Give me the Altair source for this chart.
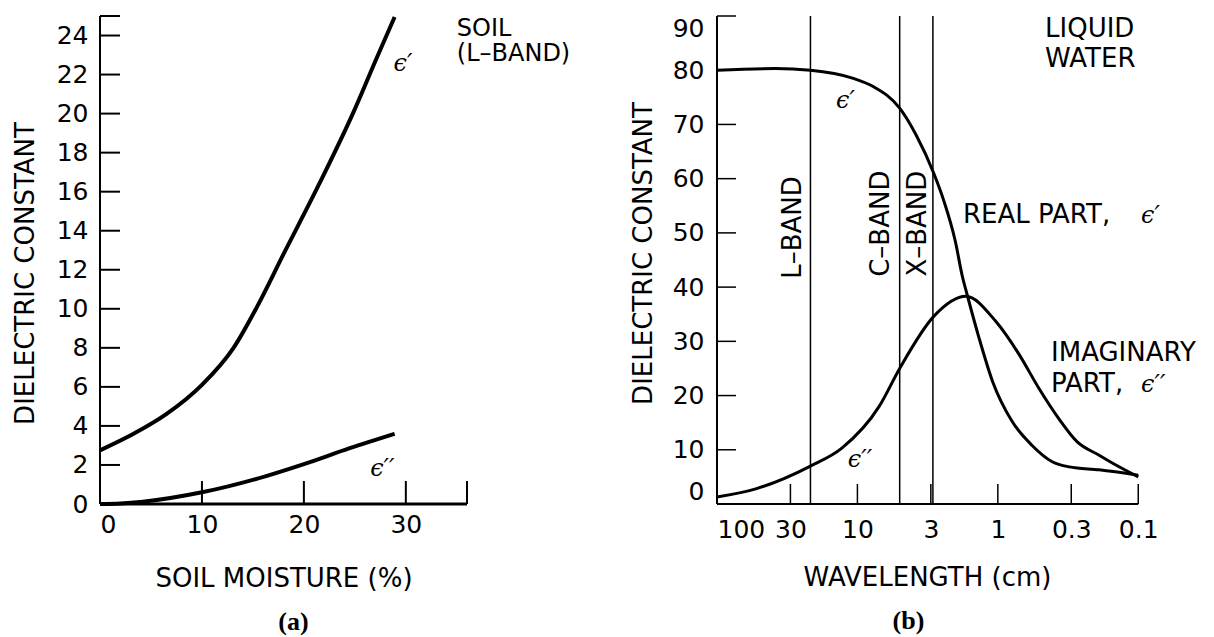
import math
import altair as alt
import pandas as pd

# ---------------- (a) SOIL (L-BAND) ----------------
soil_moisture_real = [0, 3.2, 6.5, 10, 13.1, 15.4, 18, 21.6, 24.8, 27.1, 28.9]
soil_eps_real = [2.75, 3.57, 4.6, 6.1, 8.0, 10.1, 12.8, 16.5, 20.0, 22.8, 24.95]
soil_moisture_imag = [0, 2, 4.2, 10, 16.3, 20, 24.5, 28.9]
soil_eps_imag = [0.0, 0.03, 0.12, 0.6, 1.43, 2.04, 2.86, 3.6]
soil_x_labels = [0, 10, 20, 30]
soil_x_ticks = [10, 20, 30, 36]
soil_y_labels = [0, 2, 4, 6, 8, 10, 12, 14, 16, 18, 20, 22, 24]
soil_y_ticks = [2, 4, 6, 8, 10, 12, 14, 16, 18, 20, 22, 24, 25]
soil_x_range = [0, 36]
soil_y_range = [0, 25]

soil_note_text = ["SOIL", "(L\u2013BAND)"]
soil_note_x = [35.0, 35.0]
soil_note_y = [24.0, 22.7]
soil_eps_text = ["\u03f5\u2032", "\u03f5\u2032\u2032"]
soil_eps_x = [28.8, 26.5]
soil_eps_y = [22.2, 1.45]

# ---------------- (b) LIQUID WATER ----------------
wl_real = [100, 38.5, 21.6, 10.7, 7.73, 5.0, 3.81, 2.86, 2.43, 2.01, 1.79, 1.65,
           1.36, 1.09, 0.79, 0.57, 0.41, 0.31, 0.19, 0.1]
water_eps_real = [80.0, 80.3, 80.0, 78.5, 77.0, 73.0, 68.0, 61.0, 56.0, 48.5, 42.0, 38.5,
                  30.6, 22.6, 15.2, 10.8, 7.8, 6.85, 6.3, 5.3]
wl_imag = [100, 53, 21.6, 12.9, 7.0, 5.0, 2.86, 1.69, 1.035, 0.706, 0.509,
           0.367, 0.273, 0.19, 0.14, 0.1]
water_eps_imag = [1.3, 2.8, 7.0, 10.3, 18.0, 25.0, 34.6, 38.3, 33.7, 27.6, 21.3,
                  15.7, 11.5, 9.0, 7.0, 5.0]
band_names = ["L\u2013BAND", "C\u2013BAND", "X\u2013BAND"]
band_wavelength = [21.6, 5.0, 2.9]
band_label_x = [28.8, 6.79, 3.70]
band_label_y = [51.0, 51.7, 51.7]
wl_labels = [100, 30, 10, 3, 1, 0.3, 0.1]
wl_ticks = [30, 10, 3, 1, 0.3, 0.1]
wl_range = [100, 0.1]
water_y_labels = [0, 10, 20, 30, 40, 50, 60, 70, 80, 90]
water_y_ticks = [10, 20, 30, 40, 50, 60, 70, 80, 90]
water_y_range = [0, 90]

water_note_text = ["LIQUID", "WATER", "REAL PART,", "IMAGINARY", "PART,"]
water_note_x = [0.461, 0.461, 1.77, 0.418, 0.418]
water_note_y = [86.1, 80.6, 51.9, 26.3, 20.7]
water_eps_text = ["\u03f5\u2032", "\u03f5\u2032\u2032", "\u03f5\u2032", "\u03f5\u2032\u2032"]
water_eps_x = [0.0955, 0.0955, 14.2, 11.7]
water_eps_y = [51.9, 20.7, 73.0, 6.85]

SANS = "DejaVu Sans"
SERIF = "DejaVu Serif"
WA, WB, H = 367, 443, 488
XB_DOMAIN = [0.07, 100]

# tick lengths in pixels (style), converted to data units of each scale
TICK_A_Y, TICK_A_X, TICK_B_Y, TICK_B_X = 20, 23, 19, 20
a_px_x = WA / (soil_x_range[1] - soil_x_range[0])
a_px_y = H / (soil_y_range[1] - soil_y_range[0])
b_px_dec = WB / math.log10(XB_DOMAIN[1] / XB_DOMAIN[0])
b_px_y = H / (water_y_range[1] - water_y_range[0])


def segments(pairs):
    rows = []
    for i, ((x1, y1), (x2, y2)) in enumerate(pairs):
        rows.append({"x": x1, "y": y1, "k": i})
        rows.append({"x": x2, "y": y2, "k": i})
    return pd.DataFrame(rows)


# ================= panel (a) =================
xa_scale = alt.Scale(domain=soil_x_range, nice=False, zero=False)
ya_scale = alt.Scale(domain=soil_y_range, nice=False, zero=False)
xa_axis = alt.Axis(
    values=soil_x_labels, ticks=False, domain=False, labelPadding=8, labelFlush=True,
    title="SOIL MOISTURE (%)", titleY=82, titleBaseline="alphabetic")
ya_axis = alt.Axis(
    values=soil_y_labels, ticks=False, domain=False, labelPadding=12,
    title="DIELECTRIC CONSTANT", titleX=-67, titleY=257, titleBaseline="alphabetic")


def xa(f="x"):
    return alt.X(f + ":Q", scale=xa_scale, axis=xa_axis)


def ya(f="y"):
    return alt.Y(f + ":Q", scale=ya_scale, axis=ya_axis)


soil_real_df = pd.DataFrame({"x": soil_moisture_real, "y": soil_eps_real})
soil_imag_df = pd.DataFrame({"x": soil_moisture_imag, "y": soil_eps_imag})
a_tick_df = segments(
    [((0, v), (TICK_A_Y / a_px_x, v)) for v in soil_y_ticks]
    + [((v, 0), (v, TICK_A_X / a_px_y)) for v in soil_x_ticks])

a_domx = alt.Chart(pd.DataFrame({"x": soil_x_range[:1], "x2": soil_x_range[1:]})).mark_rule(
    color="black", strokeWidth=3).encode(x=xa(), x2="x2:Q", y=alt.value(H))
a_domy = alt.Chart(pd.DataFrame({"y": soil_y_range[:1], "y2": soil_y_range[1:]})).mark_rule(
    color="black", strokeWidth=2).encode(y=ya(), y2="y2:Q", x=alt.value(0))
a_ticks = alt.Chart(a_tick_df).mark_line(color="black", strokeWidth=2).encode(
    x=xa(), y=ya(), detail="k:N")
a_line1 = alt.Chart(soil_real_df).mark_line(color="black", strokeWidth=4, interpolate="monotone").encode(
    x=xa(), y=ya())
a_line2 = alt.Chart(soil_imag_df).mark_line(color="black", strokeWidth=4, interpolate="monotone").encode(
    x=xa(), y=ya())
a_notes = alt.Chart(pd.DataFrame({"x": soil_note_x, "y": soil_note_y, "t": soil_note_text})).mark_text(
    font=SANS, fontSize=24, align="left", baseline="alphabetic", color="black").encode(
    x=xa(), y=ya(), text="t:N")
a_eps = alt.Chart(pd.DataFrame({"x": soil_eps_x, "y": soil_eps_y, "t": soil_eps_text})).mark_text(
    font=SERIF, fontSize=24, fontStyle="italic", align="left", baseline="alphabetic", color="black").encode(
    x=xa(), y=ya(), text="t:N")

panel_a = alt.layer(a_domx, a_domy, a_ticks, a_line1, a_line2, a_notes, a_eps).properties(
    width=WA, height=H,
    title=alt.TitleParams("(a)", orient="bottom", font="Liberation Serif", fontSize=26,
                          fontWeight="bold", color="black", offset=18, dx=10))

# ================= panel (b) =================
xb_scale = alt.Scale(type="log", domain=XB_DOMAIN, reverse=True, nice=False)
yb_scale = alt.Scale(domain=water_y_range, nice=False, zero=False)
xb_axis = alt.Axis(
    values=wl_labels, format="~g", ticks=False, domain=False, labelPadding=13,
    labelFlush=True, labelOverlap=False,
    title="WAVELENGTH (cm)", titleX=210, titleY=81, titleBaseline="alphabetic")
yb_axis = alt.Axis(
    values=water_y_labels, ticks=False, domain=False, labelPadding=13, labelFlush=True,
    title="DIELECTRIC CONSTANT", titleX=-66, titleY=237, titleBaseline="alphabetic")


def xb(f="x"):
    return alt.X(f + ":Q", scale=xb_scale, axis=xb_axis)


def yb(f="y"):
    return alt.Y(f + ":Q", scale=yb_scale, axis=yb_axis)


water_real_df = pd.DataFrame({"x": wl_real, "y": water_eps_real})
water_imag_df = pd.DataFrame({"x": wl_imag, "y": water_eps_imag})
b_tick_df = segments(
    [((wl_range[0], v), (wl_range[0] / 10 ** (TICK_B_Y / b_px_dec), v)) for v in water_y_ticks]
    + [((v, 0), (v, TICK_B_X / b_px_y)) for v in wl_ticks])

b_domx = alt.Chart(pd.DataFrame({"x": wl_range[:1], "x2": wl_range[1:]})).mark_rule(
    color="black", strokeWidth=2).encode(x=xb(), x2="x2:Q", y=alt.value(H))
b_domy = alt.Chart(pd.DataFrame({"y": water_y_range[:1], "y2": water_y_range[1:]})).mark_rule(
    color="black", strokeWidth=2).encode(y=yb(), y2="y2:Q", x=alt.value(0))
b_ticks = alt.Chart(b_tick_df).mark_line(color="black", strokeWidth=1.5).encode(
    x=xb(), y=yb(), detail="k:N")
b_line1 = alt.Chart(water_real_df).mark_line(color="black", strokeWidth=3, interpolate="monotone").encode(
    x=xb(), y=yb(), order=alt.Order("x:Q", sort="descending"))
b_line2 = alt.Chart(water_imag_df).mark_line(color="black", strokeWidth=3, interpolate="monotone").encode(
    x=xb(), y=yb(), order=alt.Order("x:Q", sort="descending"))
b_bands = alt.Chart(pd.DataFrame({"x": band_wavelength})).mark_rule(color="black", strokeWidth=1.5).encode(
    x=xb())
b_band_text = alt.Chart(pd.DataFrame({"x": band_label_x, "y": band_label_y, "t": band_names})).mark_text(
    font=SANS, fontSize=26, angle=270, align="center", baseline="middle", color="black").encode(
    x=xb(), y=yb(), text="t:N")
b_notes = alt.Chart(pd.DataFrame({"x": water_note_x, "y": water_note_y, "t": water_note_text})).mark_text(
    font=SANS, fontSize=26, align="left", baseline="alphabetic", color="black").encode(
    x=xb(), y=yb(), text="t:N")
b_eps = alt.Chart(pd.DataFrame({"x": water_eps_x, "y": water_eps_y, "t": water_eps_text})).mark_text(
    font=SERIF, fontSize=24, fontStyle="italic", align="left", baseline="alphabetic", color="black").encode(
    x=xb(), y=yb(), text="t:N")

panel_b = alt.layer(b_domx, b_domy, b_ticks, b_line1, b_line2, b_bands, b_band_text, b_notes, b_eps).properties(
    width=WB, height=H,
    title=alt.TitleParams("(b)", orient="bottom", font="Liberation Serif", fontSize=26,
                          fontWeight="bold", color="black", offset=18, dx=-30))

chart = alt.hconcat(panel_a, panel_b, spacing=250, bounds="flush").configure(
    padding={"left": 4, "top": 0, "right": 0, "bottom": 0},
    background="white",
).configure_view(stroke=None).configure_axis(
    labelFont=SANS, labelFontSize=25, labelColor="black",
    titleFont=SANS, titleFontSize=26, titleFontWeight="normal", titleColor="black",
    grid=False,
)

chart.save("out.html", embed_options={"renderer": "svg", "actions": False})
